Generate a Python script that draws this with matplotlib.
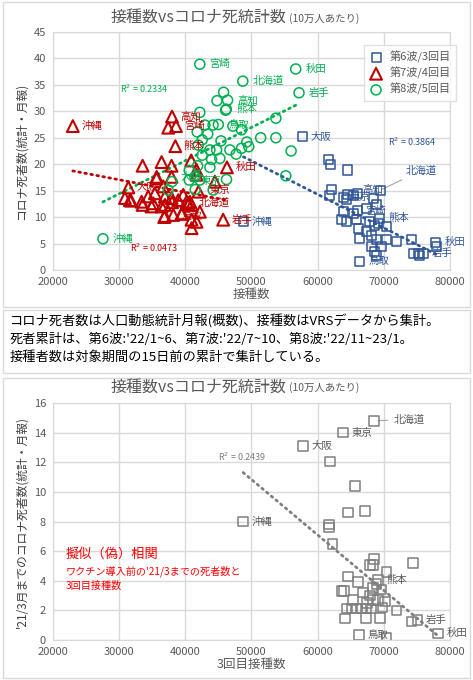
import numpy as np
import matplotlib
matplotlib.use("Agg")
import matplotlib.pyplot as plt
from matplotlib.patches import Rectangle

plt.rcParams['font.family'] = ['Noto Sans CJK JP', 'DejaVu Sans']

# --- top chart data (per 100k people) ---
wave6_x = [57700, 69500, 64500, 66000, 66000, 69400, 66400, 76000, 77900, 48800,
           61600, 61900, 64600, 62100, 61750, 63860, 65380, 64370, 68400, 67400,
           68910, 63860, 65380, 63620, 64370, 65880, 66130, 66390, 67900, 68660,
           69160, 70420, 67400, 68150, 68910, 68150, 69670, 68660, 68910, 71920,
           74190, 74440, 75450, 75200, 77980, 70500]
wave6_y = [25.2, 15.1, 14.3, 14.5, 11.2, 9.8, 1.6, 3.2, 5.2, 9.1,
           20.8, 19.9, 18.9, 15.3, 14.0, 13.7, 14.0, 13.4, 13.6, 11.7,
           12.3, 11.0, 10.7, 9.5, 9.1, 9.5, 7.9, 6.0, 9.1, 8.5,
           8.8, 8.2, 7.2, 6.6, 5.7, 4.4, 4.4, 3.5, 2.8, 5.4,
           5.7, 3.2, 2.8, 3.2, 4.4, 5.8]
wave6_lab = ["大阪", "北海道", "東京", "高知", "宮崎", "熊本", "鳥取", "岩手", "秋田", "沖縄"] + [""] * 36

wave7_x = [23000, 38000, 38600, 38500, 31400, 42000, 40700, 38200, 46300, 45730,
           37420, 33550, 36420, 37930, 40900, 30880, 31630, 33550, 35160, 35660,
           36920, 39430, 36820, 40950, 41710, 42210, 40450, 44480, 41710, 35670,
           37930, 41710, 31790, 33400, 34400, 35410, 36920, 37930, 38930, 40200,
           40950, 36420, 34910, 36920, 39540, 40950, 36670, 39690, 38000]
wave7_y = [27.2, 29.0, 27.2, 23.4, 15.6, 14.8, 12.9, 10.4, 19.4, 9.5,
           26.9, 19.7, 20.4, 19.7, 20.7, 13.6, 13.2, 12.3, 12.6, 17.3,
           12.3, 10.6, 10.0, 7.9, 9.1, 11.0, 12.6, 16.7, 18.9, 17.6,
           17.6, 18.0, 13.1, 12.9, 13.9, 14.5, 13.9, 13.6, 13.2, 12.9,
           12.3, 12.0, 12.0, 10.2, 10.7, 9.5, 15.8, 14.2, 12.8]
wave7_lab = ["沖縄", "高知", "宮崎", "熊本", "大阪", "東京", "北海道", "鳥取", "秋田", "岩手"] + [""] * 39

wave8_x = [42200, 48700, 56700, 57200, 46400, 46200, 45000, 27560, 38000, 41500,
           45800, 44800, 46100, 42200, 44200, 47200, 41800, 43400, 53700, 51400,
           53700, 56000, 49300, 49600, 47700, 48500, 55200, 48500, 46750, 45400,
           42970, 42560, 41960, 43730, 44740, 45230, 43980, 42560, 41870, 43730,
           46240, 40600, 41460, 42210, 37420, 44230, 40600]
wave8_y = [38.9, 35.7, 38.0, 33.5, 32.1, 30.4, 27.5, 5.9, 16.7, 15.2,
           33.6, 32.0, 30.2, 29.8, 27.4, 27.2, 26.1, 25.7, 28.7, 25.0,
           25.0, 22.5, 24.2, 23.3, 21.9, 26.5, 17.8, 23.0, 22.7, 24.4,
           27.4, 24.6, 23.6, 22.7, 22.7, 21.1, 20.9, 21.7, 19.7, 19.4,
           17.1, 17.0, 17.6, 17.0, 15.1, 15.1, 18.8]
wave8_lab = ["宮崎", "北海道", "秋田", "岩手", "高知", "熊本", "鳥取", "沖縄", "大阪", "東京"] + [""] * 37

# --- bottom chart data: deaths until '21/3 vs 3rd dose ---
pre_x = [68510, 63870, 57830, 48760, 69170, 75100, 78230, 66290,
         61860, 65640, 64630, 67150, 61760, 61700, 62260, 68510, 67910, 68410,
         74450, 70420, 64630, 66140, 68910, 63620, 63970, 67910, 69670, 68410,
         69170, 70170, 65380, 64370, 65130, 65890, 66650, 67400, 68160, 71920,
         64130, 67300, 69420, 74210, 70420, 68400, 67500, 66900, 69800]
pre_y = [14.8, 14.0, 13.1, 8.0, 4.05, 1.35, 0.45, 0.34,
         12.05, 10.4, 8.6, 8.7, 7.8, 7.6, 6.5, 5.45, 5.07, 5.07,
         5.2, 4.6, 4.3, 3.9, 3.8, 3.3, 3.3, 3.0, 3.4, 2.7,
         2.7, 2.6, 2.7, 2.14, 2.14, 2.14, 2.14, 2.14, 2.14, 2.0,
         1.46, 1.5, 1.5, 1.24, 0.14, 3.5, 2.5, 3.2, 2.2]
pre_lab = ["北海道", "東京", "大阪", "沖縄", "熊本", "岩手", "秋田", "鳥取"] + [""] * 39

BLUE = "#2F5597"
RED = "#C00000"
GREEN = "#00B050"
GRAY = "#7F7F7F"
TXT = "#595959"
GRID = "#D9D9D9"

# small nudges (points) for crowded labels
NUDGE = {("b", "高知"): (4, 3), ("b", "東京"): (2, -2), ("g", "東京"): (4, 6),
         ("r", "東京"): (8, 1), ("g", "大阪"): (6, 3), ("r", "北海道"): (6, -1),
         ("r", "鳥取"): (6, -1)}


def style_axes(ax, ymax, ystep, xlabel, ylabel):
    ax.set_xlim(20000, 80000)
    ax.set_ylim(0, ymax)
    ax.set_xticks(np.arange(20000, 80001, 10000))
    ax.set_yticks(np.arange(0, ymax + 0.1, ystep))
    ax.grid(True, color=GRID, lw=1)
    ax.set_axisbelow(True)
    for s in ax.spines.values():
        s.set_color(GRID)
    ax.tick_params(length=0, labelsize=8, colors=TXT, pad=5)
    ax.set_xlabel(xlabel, fontsize=9, color=TXT, labelpad=1)
    ax.set_ylabel(ylabel, fontsize=8.5, color="#404040", labelpad=4)


def trend(ax, x, y, color):
    k, b = np.polyfit(x, y, 1)
    xs = np.array([min(x), max(x)])
    ax.plot(xs, k * xs + b, color=color, lw=2, linestyle=(0, (0.6, 1.6)),
            dash_capstyle="round", zorder=3)


def labels(ax, x, y, labs, color, key, dx=6):
    for xi, yi, t in zip(x, y, labs):
        if t:
            off = NUDGE.get((key, t), (dx, 0))
            ax.annotate(t, (xi, yi), xytext=off, textcoords="offset points",
                        ha="left", va="center", fontsize=7.5, color=color, zorder=5)


fig = plt.figure(figsize=(4.73, 6.8), dpi=100)

# panel frames
for (y0, h) in [(2 / 680, 305 / 680), (310 / 680, 63 / 680), (378 / 680, 300 / 680)]:
    fig.patches.append(Rectangle((3 / 473, 1 - y0 - h), 467 / 473, h, fill=False,
                                 ec=GRID, lw=1, transform=fig.transFigure))

# ---------- top chart ----------
ax1 = fig.add_axes([0.112, 0.603, 0.839, 0.350])
style_axes(ax1, 45, 5, "接種数", "コロナ死者数(統計・月報)")
ax1.scatter(wave6_x, wave6_y, marker="s", s=42, facecolors="none", edgecolors=BLUE,
            lw=1.1, label="第6波/3回目", zorder=4)
ax1.scatter(wave7_x, wave7_y, marker="^", s=72, facecolors="none", edgecolors=RED,
            lw=1.5, label="第7波/4回目", zorder=4)
ax1.scatter(wave8_x, wave8_y, marker="o", s=52, facecolors="none", edgecolors=GREEN,
            lw=1.1, label="第8波/5回目", zorder=4)
trend(ax1, wave6_x, wave6_y, BLUE)
trend(ax1, wave7_x, wave7_y, RED)
trend(ax1, wave8_x, wave8_y, GREEN)

labels(ax1, wave6_x[:1] + wave6_x[2:10], wave6_y[:1] + wave6_y[2:10],
       wave6_lab[:1] + wave6_lab[2:10], BLUE, "b")
ax1.annotate(wave6_lab[1], (wave6_x[1], wave6_y[1]), xytext=(18, 14),
             textcoords="offset points", ha="left", va="center", fontsize=7.5,
             color=BLUE, arrowprops=dict(arrowstyle="-", color="#A6A6A6", lw=0.8,
                                         shrinkA=2, shrinkB=1))
labels(ax1, wave7_x, wave7_y, wave7_lab, RED, "r")
labels(ax1, wave8_x, wave8_y, wave8_lab, GREEN, "g", dx=7)

ax1.text(0.17, 0.742, "R$^2$ = 0.2334", transform=ax1.transAxes, fontsize=6.5, color=GREEN)
ax1.text(0.845, 0.52, "R$^2$ = 0.3864", transform=ax1.transAxes, fontsize=6.5, color=BLUE)
ax1.text(0.195, 0.075, "R$^2$ = 0.0473", transform=ax1.transAxes, fontsize=6.5, color=RED)

leg = ax1.legend(loc="upper right", bbox_to_anchor=(1.03, 0.968), fontsize=8,
                 frameon=True, fancybox=False, edgecolor=GRID, handletextpad=0.6,
                 borderpad=0.5, labelspacing=0.35, handlelength=1.2)
for t in leg.get_texts():
    t.set_color(TXT)

fig.text(0.605, 0.975, "接種数vsコロナ死統計数", fontsize=11.5, color=TXT, ha="right",
         va="center")
fig.text(0.61, 0.973, "(10万人あたり)", fontsize=7.5, color=TXT, ha="left", va="center")

# ---------- note text ----------
note = ["コロナ死者数は人口動態統計月報(概数)、接種数はVRSデータから集計。",
        "死者累計は、第6波:'22/1~6、第7波:'22/7~10、第8波:'22/11~23/1。",
        "接種者数は対象期間の15日前の累計で集計している。"]
for i, line in enumerate(note):
    fig.text(10 / 473, 1 - (321 + 18 * i) / 680, line, fontsize=9.5, color="black",
             ha="left", va="center")

# ---------- bottom chart ----------
ax2 = fig.add_axes([0.112, 0.0588, 0.839, 0.3485])
style_axes(ax2, 16, 2, "3回目接種数", "'21/3月までのコロナ死者数(統計・月報)")
ax2.scatter(pre_x, pre_y, marker="s", s=48, facecolors="none", edgecolors=GRAY,
            lw=1.1, zorder=4)
trend(ax2, pre_x, pre_y, GRAY)
labels(ax2, pre_x[1:], pre_y[1:], pre_lab[1:], "#595959", "p")
ax2.annotate(pre_lab[0], (pre_x[0], pre_y[0]), xytext=(14, 1), textcoords="offset points",
             ha="left", va="center", fontsize=7.5, color="#595959",
             arrowprops=dict(arrowstyle="-", color="#A6A6A6", lw=0.8, shrinkA=2, shrinkB=3))
ax2.text(0.415, 0.755, "R$^2$ = 0.2439", transform=ax2.transAxes, fontsize=6.5, color=GRAY)
ax2.text(0.033, 0.36, "擬似（偽）相関", transform=ax2.transAxes, fontsize=9.5,
         color="#FF0000", va="center")
ax2.text(0.033, 0.292, "ワクチン導入前の'21/3までの死者数と", transform=ax2.transAxes,
         fontsize=7.3, color="#FF0000", va="center")
ax2.text(0.033, 0.228, "3回目接種数", transform=ax2.transAxes, fontsize=7.3,
         color="#FF0000", va="center")

fig.text(0.605, 1 - 387 / 680, "接種数vsコロナ死統計数", fontsize=11.5, color=TXT,
         ha="right", va="center")
fig.text(0.61, 1 - 388 / 680, "(10万人あたり)", fontsize=7.5, color=TXT, ha="left",
         va="center")

fig.savefig("out.png", dpi=100)
